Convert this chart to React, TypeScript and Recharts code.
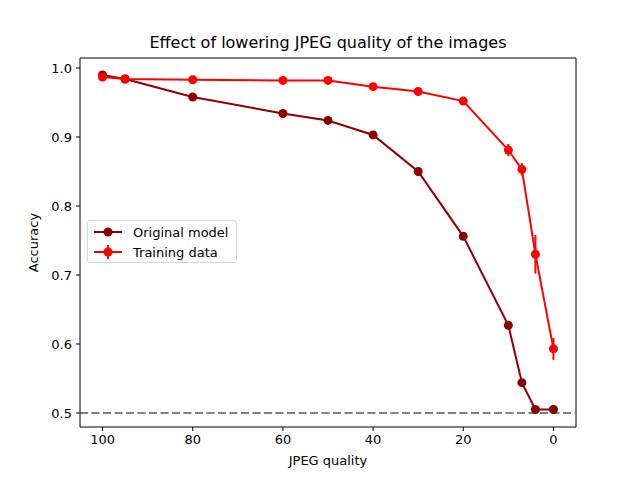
import { ComposedChart, Line, XAxis, YAxis, ErrorBar, ReferenceLine } from 'recharts'

const quality = [100, 95, 80, 60, 50, 40, 30, 20, 10, 7, 4, 0]
const originalAcc = [0.99, 0.984, 0.958, 0.934, 0.924, 0.903, 0.85, 0.756, 0.627, 0.544, 0.505, 0.505]
const trainingAcc = [0.987, 0.984, 0.983, 0.982, 0.982, 0.973, 0.966, 0.952, 0.881, 0.853, 0.73, 0.593]
const trainingErr = [0.003, 0.002, 0.002, 0.002, 0.002, 0.003, 0.003, 0.003, 0.009, 0.009, 0.028, 0.016]
const xTicks = [0, 20, 40, 60, 80, 100]
const yTicks = [0.5, 0.6, 0.7, 0.8, 0.9, 1.0]

const rows = quality.map((q, i) => ({
  quality: q,
  original: originalAcc[i],
  training: trainingAcc[i],
  trainingErr: trainingErr[i],
}))

const FONT = '"DejaVu Sans", sans-serif'
const DARK = '#8b0000'
const RED = '#ff0000'
const X_DOMAIN: [number, number] = [-5, 105]
const Y_DOMAIN: [number, number] = [0.4797, 1.0145]

function LegendBox() {
  const entry = (color: string, label: string, err: boolean) => (
    <div style={{ display: 'flex', alignItems: 'center', height: 20 }}>
      <svg width={34} height={20}>
        <line x1={4} x2={32} y1={10} y2={10} stroke={color} strokeWidth={2} />
        {err && <line x1={18} x2={18} y1={3} y2={17} stroke={color} strokeWidth={2} />}
        <circle cx={18} cy={10} r={4.5} fill={color} />
      </svg>
      <span style={{ marginLeft: 9 }}>{label}</span>
    </div>
  )
  return (
    <div
      style={{
        position: 'absolute',
        left: 87,
        top: 220,
        width: 150,
        height: 43,
        border: '1px solid #d6d6d6',
        borderRadius: 3,
        background: 'rgba(255,255,255,0.8)',
        fontFamily: FONT,
        fontSize: 13,
        padding: '1px 0 0 2px',
        boxSizing: 'border-box',
      }}
    >
      {entry(DARK, 'Original model', false)}
      {entry(RED, 'Training data', true)}
    </div>
  )
}

export default function App() {
  document.body.style.margin = '0'
  return (
    <div style={{ position: 'relative', width: 640, height: 480, background: '#fff', fontFamily: FONT }}>
      <div
        style={{
          position: 'absolute',
          left: 80,
          width: 496,
          top: 33,
          textAlign: 'center',
          fontSize: 16,
          color: '#000',
        }}
      >
        Effect of lowering JPEG quality of the images
      </div>
      <ComposedChart
        width={640}
        height={480}
        data={rows}
        margin={{ top: 58, right: 64, bottom: 19, left: 0 }}
        style={{ fontFamily: FONT }}
      >
        <XAxis
          dataKey="quality"
          type="number"
          domain={X_DOMAIN}
          reversed
          ticks={xTicks}
          interval={0}
          height={34}
          tickSize={4}
          tickMargin={4}
          stroke="#000"
          tick={{ fill: '#000', fontSize: 13 }}
          allowDataOverflow
          label={{ value: 'JPEG quality', position: 'insideBottom', offset: -4, fill: '#000', fontSize: 13 }}
        />
        <YAxis
          type="number"
          domain={Y_DOMAIN}
          ticks={yTicks}
          interval={0}
          width={80}
          tickSize={4}
          tickMargin={4}
          stroke="#000"
          allowDataOverflow
          tick={{ fill: '#000', fontSize: 13 }}
          tickFormatter={(v: number) => v.toFixed(1)}
          label={{ value: 'Accuracy', angle: -90, position: 'insideLeft', offset: 33, fill: '#000', fontSize: 13, style: { textAnchor: 'middle' } }}
        />
        {/* top and right spines */}
        <ReferenceLine y={Y_DOMAIN[1]} stroke="#000" strokeWidth={1} />
        <ReferenceLine x={X_DOMAIN[0]} stroke="#000" strokeWidth={1} />
        <ReferenceLine y={0.5} stroke="#808080" strokeWidth={2} strokeDasharray="8 3.5" />
        <Line
          dataKey="original"
          stroke={DARK}
          strokeWidth={2}
          dot={{ r: 4.5, fill: DARK, stroke: DARK, strokeWidth: 0 }}
          activeDot={false}
          isAnimationActive={false}
        />
        <Line
          dataKey="training"
          stroke={RED}
          strokeWidth={2}
          dot={{ r: 4.5, fill: RED, stroke: RED, strokeWidth: 0 }}
          activeDot={false}
          isAnimationActive={false}
        >
          <ErrorBar dataKey="trainingErr" direction="y" width={0} stroke={RED} strokeWidth={2} />
        </Line>
      </ComposedChart>
      <LegendBox />
    </div>
  )
}
